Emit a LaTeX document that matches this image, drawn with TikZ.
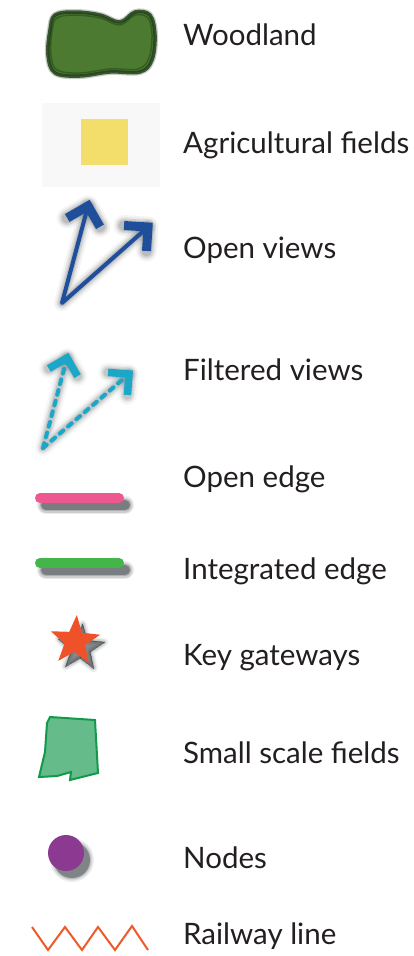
\documentclass[tikz,border=0pt]{standalone}
\usepackage{fontspec}
\setmainfont{Lato}
\usetikzlibrary{calc,shapes.geometric}
\definecolor{txt}{HTML}{231F20}
\definecolor{wood}{HTML}{4B7A30}
\definecolor{woodedge}{HTML}{22401A}
\definecolor{agbg}{HTML}{F8F8F8}
\definecolor{agri}{HTML}{F4DE6B}
\definecolor{openblue}{HTML}{1F4E9A}
\definecolor{filtblue}{HTML}{1AA7C8}
\definecolor{pinkedge}{HTML}{EE5890}
\definecolor{greenedge}{HTML}{44B549}
\definecolor{starorange}{HTML}{EF5228}
\definecolor{fieldfill}{HTML}{65BB8A}
\definecolor{fieldline}{HTML}{12994B}
\definecolor{nodepurple}{HTML}{8C3A91}
\definecolor{rail}{HTML}{EF5A2A}
\definecolor{shadowgray}{HTML}{2E3338}
\tikzset{
  label/.style={anchor=base west, inner sep=0pt, text=txt, font=\fontsize{29.5}{33}\selectfont},
  shadowline/.style={draw=shadowgray, line cap=round, line join=round},
}
\begin{document}
\begin{tikzpicture}[x=1pt,y=-1pt]
\useasboundingbox[fill=white] (0,0) rectangle (414,956);

% ---------- Woodland ----------
\path[draw=woodedge, line width=6, opacity=0.25] plot[smooth cycle, tension=0.6] coordinates {(50,30) (55,15) (75,12) (100,15) (120,22) (135,12) (150,15) (155,35) (152,60) (140,72) (110,72) (80,76) (55,73) (48,55)};
\path[fill=wood, draw=woodedge, line width=3.5, draw opacity=0.85] plot[smooth cycle, tension=0.6] coordinates {(50,30) (55,15) (75,12) (100,15) (120,22) (135,12) (150,15) (155,35) (152,60) (140,72) (110,72) (80,76) (55,73) (48,55)};
\path[draw=woodedge, line width=1.5, opacity=0.5] plot[smooth cycle, tension=0.6] coordinates {(52,31) (57,18) (75,15) (100,18) (120,25) (135,15) (148,18) (152,35) (149,58) (138,69) (110,69) (80,73) (57,70) (51,55)};
\node[label] (lwood) at (183,45) {Woodland};

% ---------- Agricultural fields ----------
\fill[agbg] (42,103) rectangle (160,187);
\fill[agri] (81,119) rectangle (128,165);
\node[label] (lagri) at (183,153) {Agricultural fields};

% ---------- Open views ----------
\coordinate (ob) at (62,303);
\coordinate (ot1) at (88,206);
\coordinate (ot2) at (148,227);
\foreach \w/\o in {12/0.05,8/0.07,5/0.1,2/0.14}{
  \begin{scope}[shift={(6,7)}]
  \draw[shadowline, line width=4+\w, draw opacity=\o] (ot1) -- (ob) -- (ot2);
  \draw[shadowline, line width=9+\w, draw opacity=\o] ($(ot1)!24pt!45:(ob)$) -- (ot1) -- ($(ot1)!24pt!-45:(ob)$);
  \draw[shadowline, line width=9+\w, draw opacity=\o] ($(ot2)!24pt!45:(ob)$) -- (ot2) -- ($(ot2)!24pt!-45:(ob)$);
  \end{scope}
}
\draw[openblue, line width=4, line cap=round, line join=round] (ot1) -- (ob) -- (ot2);
\draw[openblue, line width=9, line join=miter] ($(ot1)!24pt!45:(ob)$) -- (ot1) -- ($(ot1)!24pt!-45:(ob)$);
\draw[openblue, line width=9, line join=miter] ($(ot2)!24pt!45:(ob)$) -- (ot2) -- ($(ot2)!24pt!-45:(ob)$);
\node[label] (lopen) at (183,258) {Open views};

% ---------- Filtered views ----------
\coordinate (fb) at (43,448);
\coordinate (ft1) at (67,358);
\coordinate (ft2) at (129,374);
\foreach \w/\o in {12/0.04,8/0.06,5/0.09,2/0.12}{
  \begin{scope}[shift={(6,7)}]
  \draw[shadowline, line width=4+\w, draw opacity=\o] (ft1) -- (fb) -- (ft2);
  \draw[shadowline, line width=7.5+\w, draw opacity=\o] ($(ft1)!21pt!45:(fb)$) -- (ft1) -- ($(ft1)!21pt!-45:(fb)$);
  \draw[shadowline, line width=7.5+\w, draw opacity=\o] ($(ft2)!21pt!45:(fb)$) -- (ft2) -- ($(ft2)!21pt!-45:(fb)$);
  \end{scope}
}
\draw[filtblue, line width=4, line cap=round, dash pattern=on 5pt off 6pt] (fb) -- (ft1);
\draw[filtblue, line width=4, line cap=round, dash pattern=on 5pt off 6pt] (fb) -- (ft2);
\draw[filtblue, line width=7.5, line join=miter] ($(ft1)!21pt!45:(fb)$) -- (ft1) -- ($(ft1)!21pt!-45:(fb)$);
\draw[filtblue, line width=7.5, line join=miter] ($(ft2)!21pt!45:(fb)$) -- (ft2) -- ($(ft2)!21pt!-45:(fb)$);
\node[label] (lfilt) at (183,380) {Filtered views};

% ---------- Open edge ----------
\coordinate (oe1) at (40,498);
\coordinate (oe2) at (119,498);
\foreach \w/\o in {8/0.1,5/0.15,2/0.2,0/0.4}{
  \draw[shadowline, line width=10+\w, draw opacity=\o] ([shift={(6,7)}]oe1) -- ([shift={(6,7)}]oe2);
}
\draw[pinkedge, line width=10, line cap=round] (oe1) -- (oe2);
\node[label] (loe) at (183,487) {Open edge};

% ---------- Integrated edge ----------
\coordinate (ie1) at (40,563);
\coordinate (ie2) at (119,563);
\foreach \w/\o in {8/0.1,5/0.15,2/0.2,0/0.4}{
  \draw[shadowline, line width=10+\w, draw opacity=\o] ([shift={(6,7)}]ie1) -- ([shift={(6,7)}]ie2);
}
\draw[greenedge, line width=10, line cap=round] (ie1) -- (ie2);
\node[label] (lie) at (183,579) {Integrated edge};

% ---------- Key gateways ----------
\foreach \w/\o in {8/0.08,5/0.12,2/0.18,0/0.35}{
  \node[star, star points=5, star point ratio=2.4, minimum size=48, inner sep=0pt, rotate=-4,
        fill=shadowgray, draw=shadowgray, line width=\w, line join=round, opacity=\o] at (81,648) {};
}
\node[star, star points=5, star point ratio=2.4, minimum size=52, inner sep=0pt, rotate=-4, fill=starorange] (star) at (75,641) {};
\node[label] (lkey) at (183,665) {Key gateways};

% ---------- Small scale fields ----------
\draw[fill=fieldfill, draw=fieldline, line width=2, line join=miter]
  (50,717) -- (95,720) -- (98,773) -- (70,780) -- (71,772) -- (57,776) -- (39,777) -- (45,752) -- (47,723) -- cycle;
\node[label] (lssf) at (183,763) {Small scale fields};

% ---------- Nodes ----------
\foreach \w/\o in {8/0.08,5/0.12,2/0.18,0/0.4}{
  \fill[shadowgray, opacity=\o] (72,860) circle ({18+\w/2});
}
\fill[nodepurple] (66,853) circle (18);
\node[label] (lnodes) at (183,868) {Nodes};

% ---------- Railway line ----------
\draw[rail, line width=2, line join=miter]
  (32,927) -- (48,950) -- (65,927) -- (82,950) -- (98,927) -- (115,950) -- (132,926) -- (148,950);
\node[label] (lrail) at (183,944) {Railway line};

\end{tikzpicture}
\end{document}
